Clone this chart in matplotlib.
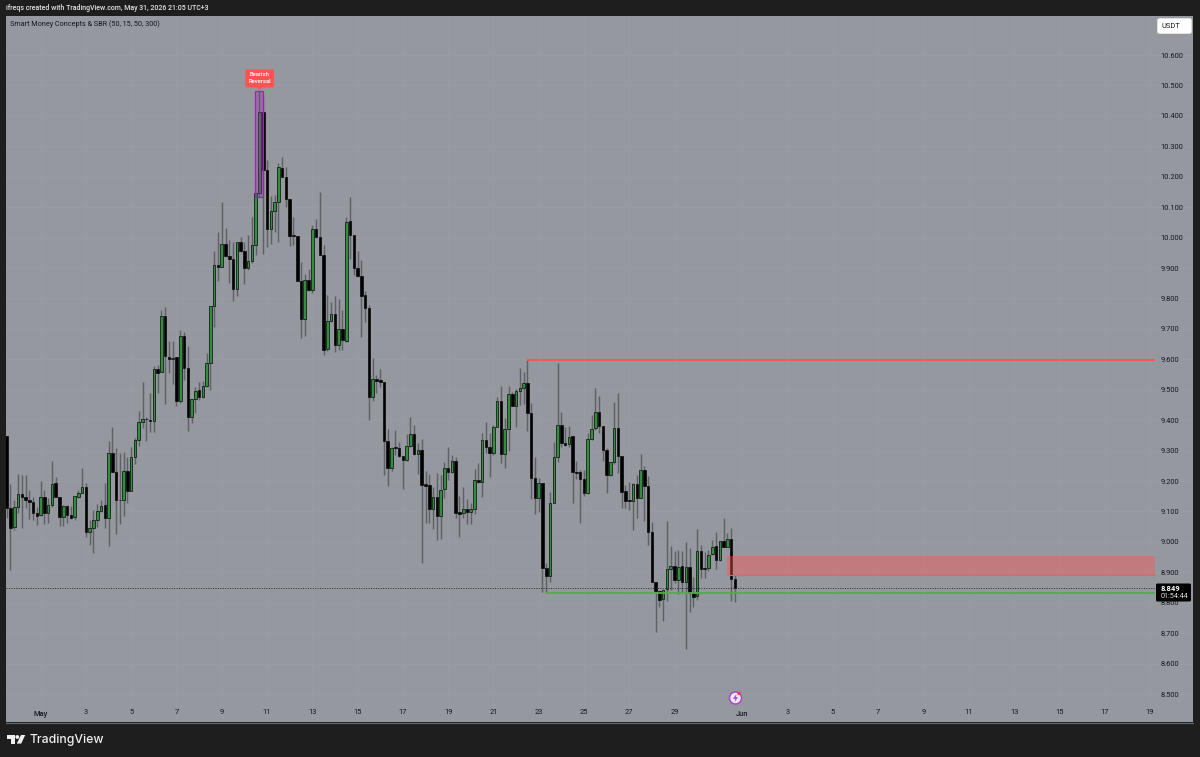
import numpy as np
import matplotlib
matplotlib.use("Agg")
import matplotlib.pyplot as plt
from matplotlib.patches import FancyBboxPatch, Rectangle, Polygon, Circle

plt.rcParams['font.family'] = ['Roboto', 'DejaVu Sans']

# 4h candles: body top, body bottom, high, low; direction U/D
body_top = [
 9.348,9.110,9.116,9.156,9.156,9.146,9.138,9.130,9.096,9.146,
 9.146,9.120,9.189,9.192,9.149,9.118,9.118,9.088,9.151,9.162,
 9.179,9.179,9.045,9.072,9.102,9.119,9.120,9.291,9.291,9.229,
 9.138,9.233,9.233,9.280,9.335,9.393,9.405,9.405,9.401,9.567,
 9.567,9.742,9.742,9.609,9.605,9.609,9.677,9.677,9.572,9.470,9.496,
 9.499,9.512,9.587,9.776,9.909,9.909,9.978,9.978,9.940,
 9.929,9.987,9.987,9.956,9.922,9.975,10.145,10.412,10.412,10.222,
 10.088,10.116,10.231,10.230,10.200,10.127,10.009,10.005,9.857,9.861,
 9.861,10.027,10.027,10.001,9.944,9.725,9.749,9.749,9.701,9.701,
 10.052,10.055,10.010,9.900,9.874,9.810,
 9.770,9.534,9.536,9.532,9.525,9.333,9.308,9.312,9.308,9.282,9.316,9.354,9.354,9.302,
 9.302,9.189,9.187,9.149,9.149,9.170,9.242,9.242,9.267,9.267,
 9.097,9.109,9.109,9.107,9.203,9.203,9.334,9.335,9.312,9.379,
 9.462,9.463,9.370,9.487,9.487,9.497,9.505,9.523,9.523,9.425,9.209,9.192,
 9.192,8.913,9.129,9.280,9.384,9.384,9.324,9.346,
 9.348,9.229,9.228,9.206,9.337,9.370,9.426,9.428,9.381,9.302,
 9.261,9.373,9.375,9.282,9.167,9.138,9.189,9.190,9.235,9.236,
 9.185,9.034,8.869,8.840,8.842,8.911,8.921,8.921,8.919,8.921,
 8.916,8.916,8.831,8.969,8.969,8.913,8.957,8.984,8.987,9.004,
 9.004,9.010,9.010,8.878]
body_bottom = [
 9.110,9.047,9.050,9.116,9.146,9.138,9.130,9.096,9.086,9.088,
 9.096,9.096,9.120,9.149,9.081,9.083,9.088,9.077,9.081,9.146,
 9.162,9.031,9.031,9.045,9.072,9.103,9.077,9.077,9.229,9.138,
 9.136,9.138,9.168,9.167,9.280,9.335,9.393,9.403,9.397,9.398,
 9.556,9.557,9.611,9.601,9.601,9.463,9.463,9.572,9.409,9.409,9.470,
 9.477,9.477,9.512,9.587,9.776,9.902,9.902,9.940,9.929,
 9.830,9.830,9.956,9.899,9.899,9.922,9.975,10.145,10.222,10.028,
 10.028,10.088,10.116,10.200,10.127,10.005,10.004,9.857,9.731,9.731,
 9.828,9.828,10.001,9.944,9.631,9.634,9.725,9.646,9.646,9.664,
 9.661,10.010,9.900,9.874,9.808,9.770,
 9.477,9.477,9.530,9.525,9.333,9.242,9.242,9.308,9.282,9.269,9.269,9.316,9.288,9.288,
 9.187,9.185,9.109,9.109,9.085,9.085,9.173,9.231,9.229,9.096,
 9.093,9.094,9.098,9.099,9.109,9.196,9.197,9.312,9.291,9.291,
 9.379,9.289,9.289,9.372,9.447,9.447,9.497,9.505,9.425,9.209,9.145,9.145,
 8.913,8.889,8.889,9.129,9.280,9.324,9.318,9.322,
 9.229,9.225,9.206,9.162,9.162,9.337,9.373,9.381,9.302,9.220,
 9.219,9.264,9.282,9.165,9.133,9.134,9.133,9.145,9.145,9.185,
 9.034,8.869,8.840,8.809,8.811,8.844,8.911,8.875,8.875,8.867,
 8.867,8.831,8.820,8.822,8.911,8.910,8.915,8.959,8.941,8.941,
 8.984,8.984,8.878,8.849]
wick_high = [
 9.348,9.190,9.138,9.223,9.220,9.220,9.170,9.149,9.116,9.200,
 9.170,9.143,9.266,9.214,9.149,9.121,9.121,9.118,9.151,9.170,
 9.242,9.192,9.072,9.105,9.125,9.138,9.195,9.332,9.376,9.310,
 9.291,9.297,9.280,9.313,9.340,9.430,9.526,9.409,9.488,9.578,
 9.581,9.762,9.771,9.661,9.661,9.609,9.696,9.691,9.644,9.470,9.510,
 9.527,9.530,9.620,9.776,9.957,10.017,10.118,10.033,9.992,
 9.987,9.987,10.003,9.987,10.009,10.067,10.145,10.483,10.463,10.255,
 10.137,10.140,10.246,10.266,10.233,10.127,10.069,10.005,9.921,9.879,
 9.897,10.041,10.060,10.151,9.976,9.811,9.789,9.808,9.797,9.762,
 10.067,10.132,10.010,9.956,9.926,9.826,
 9.778,9.605,9.548,9.567,9.525,9.370,9.313,9.368,9.329,9.283,9.354,9.411,9.384,9.324,
 9.337,9.234,9.222,9.181,9.227,9.220,9.264,9.313,9.286,9.280,
 9.152,9.179,9.141,9.127,9.238,9.260,9.357,9.395,9.357,9.384,
 9.477,9.512,9.406,9.512,9.494,9.502,9.572,9.557,9.598,9.455,9.278,9.209,
 9.192,8.930,9.165,9.329,9.587,9.426,9.376,9.381,
 9.348,9.266,9.236,9.236,9.357,9.417,9.505,9.479,9.381,9.307,
 9.261,9.461,9.488,9.282,9.187,9.196,9.192,9.220,9.289,9.250,
 9.218,9.066,8.869,8.840,8.842,9.070,8.987,8.970,8.973,8.970,
 8.999,8.979,8.886,9.042,8.990,8.968,8.973,9.006,9.034,9.004,
 9.080,9.030,9.045,8.891]
wick_low = [
 9.077,8.908,9.039,9.094,9.045,9.110,9.074,9.072,9.056,9.085,
 9.058,9.061,9.116,9.149,9.053,9.052,9.061,9.074,9.072,9.143,
 9.160,9.017,8.990,8.962,9.050,9.099,9.045,8.986,9.229,9.025,
 9.058,9.086,9.127,9.167,9.255,9.316,9.375,9.332,9.362,9.360,
 9.488,9.557,9.452,9.554,9.519,9.448,9.455,9.532,9.364,9.392,9.422,
 9.466,9.472,9.508,9.499,9.707,9.858,9.902,9.937,9.850,
 9.793,9.808,9.954,9.848,9.894,9.915,9.943,10.134,9.946,9.968,
 9.978,10.019,9.984,10.200,10.102,9.973,9.976,9.857,9.669,9.677,
 9.826,9.819,10.000,9.943,9.614,9.628,9.724,9.625,9.631,9.631,
 9.658,9.929,9.877,9.872,9.674,9.724,
 9.401,9.464,9.488,9.510,9.220,9.185,9.234,9.286,9.280,9.174,9.267,9.311,9.286,9.222,
 8.932,9.061,9.061,9.042,9.006,9.008,9.143,9.203,9.227,9.080,
 9.015,9.080,9.058,9.058,9.091,9.195,9.146,9.291,9.212,9.286,
 9.379,9.258,9.242,9.299,9.447,9.379,9.450,9.453,9.366,9.140,9.091,9.099,
 8.836,8.833,8.869,9.127,9.264,9.313,9.316,9.311,
 9.129,9.207,9.061,9.151,9.157,9.335,9.368,9.357,9.266,9.160,
 9.217,9.256,9.225,9.112,9.112,9.105,9.039,9.077,9.143,9.070,
 8.990,8.869,8.705,8.787,8.741,8.807,8.842,8.864,8.828,8.831,
 8.647,8.768,8.785,8.809,8.880,8.880,8.903,8.957,8.910,8.938,
 8.984,8.984,8.807,8.803]
directions = ("DDUUDDDDDU" "DUUDDUDDUU" "UDUUUUDUDD" "DUDUUUUDDU" "DUDDUDUDDUU"
              "DUUUUDUDD" "DUDDUUUUDD" "UUUDDDDDDU" "DUDDDUUDUD" "UDDDDD"
              "DUDDDDUDDDUUDU" "DDDUDUUDUD" "DUDUUDUDDU" "UDUUDUUUDDDU"
              "DDUUUDDU" "DDDDUUUDDD" "UUDDDDUDUD" "DDDDUUUDUD" "UDDUDDUUDU" "DUDD")
assert len(body_top) == len(body_bottom) == len(wick_high) == len(wick_low) == len(directions) == 194

price_ticks = [8.5 + 0.1 * i for i in range(22)]
date_labels = ["May", "3", "5", "7", "9", "11", "13", "15", "17", "19", "21", "23", "25", "27", "29",
               "Jun", "3", "5", "7", "9", "11", "13", "15", "17", "19"]
date_days = [0, 2, 4, 6, 8, 10, 12, 14, 16, 18, 20, 22, 24, 26, 28, 31, 33, 35, 37, 39, 41, 43, 45, 47, 49]
CANDLES_PER_DAY = 6
FIRST_DAY_CANDLE = 9
resistance_price = 9.598
support_price = 8.832
zone_low, zone_high = 8.891, 8.954
last_price = 8.849
reversal_low, reversal_high = 10.134, 10.483

W, H = 1200, 757
BG = '#1e1e1e'
PANEL = '#95989f'
fig = plt.figure(figsize=(12, 7.57), dpi=100, facecolor=BG)

L, R, T, B = 6, 1193, 16, 722
ax = fig.add_axes([L / W, 1 - B / H, (R - L) / W, (B - T) / H], facecolor=PANEL)
PX_PER_CANDLE = 3.773
FIRST_PX = 6.7
ax.set_xlim((L - FIRST_PX) / PX_PER_CANDLE, (R - FIRST_PX) / PX_PER_CANDLE)
ax.set_ylim(10.6 - (B - 55) / 304.3, 10.6 + (55 - T) / 304.3)

k = np.arange(len(body_top))
top = np.array(body_top)
bot = np.array(body_bottom)
up = np.array([c == 'U' for c in directions])

ax.grid(True, color='#999ca3', lw=0.6, zorder=0)
ax.set_axisbelow(True)
ax.vlines(k, wick_low, wick_high, color='#5f6167', lw=1.05, zorder=2)
ax.bar(k, np.maximum(top - bot, 0.002), bottom=bot, width=0.68,
       color=np.where(up, '#2f8f3a', '#000000'), edgecolor='#0a0a0a', lw=0.5, zorder=3)

END_K = (1155 - FIRST_PX) / PX_PER_CANDLE
ax.hlines(resistance_price, 138, END_K, color='#ff5252', lw=1.3, zorder=4)
ax.hlines(support_price, 143, END_K, color='#4caf50', lw=1.3, zorder=4)
ax.add_patch(Rectangle((190.9, zone_low), END_K - 190.9, zone_high - zone_low,
                       fc='#ff5252', alpha=0.42, ec='none', zorder=4))
ax.hlines(zone_low, 190.9, END_K, color='#e8606c', lw=0.8, zorder=4)
ax.hlines(last_price, ax.get_xlim()[0], END_K, color='#2a2a2a', lw=0.7, linestyles=(0, (1, 1.5)), zorder=4)
ax.add_patch(Rectangle((65.85, reversal_low), 2.05, reversal_high - reversal_low,
                       fc='#9c27b0', alpha=0.35, ec='none', zorder=5))
ax.add_patch(Rectangle((65.85, reversal_low), 2.05, reversal_high - reversal_low,
                       fc='none', ec='#9c27b0', lw=0.9, zorder=5))

ax.set_yticks(price_ticks)
ax.set_yticklabels([f"{p:.3f}" for p in price_ticks], fontsize=5.4, color='#131722')
ax.yaxis.tick_right()
ax.tick_params(axis='y', length=0, pad=-23.5, labelright=True, labelleft=False)
for t in ax.get_yticklabels():
    t.set_horizontalalignment('left')

ax.set_xticks([FIRST_DAY_CANDLE + CANDLES_PER_DAY * d for d in date_days])
ax.set_xticklabels(date_labels, fontsize=5.4, color='#131722')
ax.tick_params(axis='x', length=0, pad=-9)
for s in ax.spines.values():
    s.set_visible(False)
for t, lab in zip(ax.get_xticklabels(), date_labels):
    if lab in ("May", "Jun"):
        t.set_fontweight('medium')

# overlay in figure pixels
ov = fig.add_axes([0, 0, 1, 1], facecolor='none', zorder=10)
ov.set_xlim(0, W)
ov.set_ylim(H, 0)
ov.axis('off')
ov.plot([L, R], [B + 0.5, B + 0.5], color='#6a6c72', lw=0.8)

ov.text(6.5, 8.5, "ifreqs created with TradingView.com, May 31, 2026 21:05 UTC+3",
        color='#e4e4e4', fontsize=5.05, va='center', ha='left', fontweight='medium')
ov.text(10, 24.5, "Smart Money Concepts & SBR (50, 15, 50, 300)", color='#131722', fontsize=5.2, va='center')

ov.add_patch(FancyBboxPatch((1158.5, 19.5), 32, 13, boxstyle="round,pad=1.2,rounding_size=2", fc='white', ec='none'))
ov.text(1171, 26, "USDT", color='#131722', fontsize=5.4, ha='center', va='center')

ov.add_patch(FancyBboxPatch((1157, 584.5), 33, 16, boxstyle="round,pad=1,rounding_size=1.5", fc='black', ec='none'))
ov.text(1161, 588.6, f"{last_price:.3f}", color='white', fontsize=5.4, fontweight='bold', va='center')
ov.text(1161, 596.6, "01:54:44", color='#e0e0e0', fontsize=5.2, va='center')

# Bearish Reversal label
ov.add_patch(FancyBboxPatch((246.5, 70.5), 26.5, 16, boxstyle="round,pad=1,rounding_size=1.5", fc='#ff5252', ec='none'))
ov.add_patch(Polygon([[257, 87], [262, 87], [259.5, 90.5]], fc='#ff5252', ec='none'))
ov.text(259.7, 75, "Bearish", color='white', fontsize=4.2, ha='center', va='center', fontweight='medium')
ov.text(259.7, 81.3, "Reversal", color='white', fontsize=4.2, ha='center', va='center', fontweight='medium')

# badge
ov.add_patch(Circle((735.5, 698), 6, fc='#f3e6f5', ec='#a24cc0', lw=1.1))
ov.add_patch(Polygon([[736.5, 694], [732.8, 698.8], [735.3, 698.8], [734.5, 702], [738.2, 697.2], [735.8, 697.2]],
                     fc='#a24cc0', ec='none'))
ov.add_patch(Circle((739, 693.5), 1.6, fc='#f23645', ec='none'))

# TradingView logo
ov.add_patch(Polygon([[7.3, 735], [14.5, 735], [14.5, 743.6], [10.6, 743.6], [10.6, 738.6], [7.3, 738.6]], fc='#f0f0f0', ec='none'))
ov.add_patch(Circle((17.3, 737), 1.9, fc='#f0f0f0', ec='none'))
ov.add_patch(Polygon([[21, 735], [25.2, 735], [21.2, 743.6], [16.8, 743.6]], fc='#f0f0f0', ec='none'))
ov.text(29, 739.5, "TradingView", color='#f0f0f0', fontsize=8.8, va='center', ha='left', fontweight='medium', family='Inter')

fig.savefig('out.png', dpi=100, facecolor=BG)
